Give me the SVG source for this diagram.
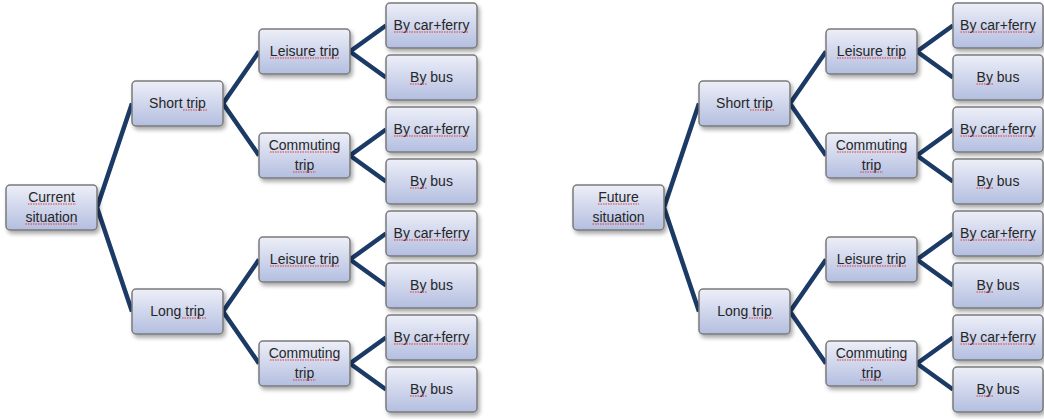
<svg xmlns="http://www.w3.org/2000/svg" width="1044" height="419" viewBox="0 0 1044 419">
<defs>
<linearGradient id="g" x1="0" y1="0" x2="0" y2="1">
<stop offset="0" stop-color="#EDEFF8"/>
<stop offset="1" stop-color="#B3BEE0"/>
</linearGradient>
<filter id="sh" x="-20%" y="-20%" width="150%" height="160%">
<feGaussianBlur in="SourceAlpha" stdDeviation="2"/>
<feOffset dx="1.5" dy="2.5" result="b"/>
<feComponentTransfer><feFuncA type="linear" slope="0.35"/></feComponentTransfer>
<feMerge><feMergeNode/><feMergeNode in="SourceGraphic"/></feMerge>
</filter>
</defs>
<style>
.box{fill:url(#g);stroke:#7B7B7B;stroke-width:1.5;filter:url(#sh)}
.t{font-family:"Liberation Sans",Arial,sans-serif;font-size:14px;fill:#262626;text-anchor:middle}
.c{fill:none;stroke:#1B3A66;stroke-width:4.5;stroke-linejoin:miter}
.sq{stroke:#E23A3A;stroke-width:1;stroke-dasharray:1.5 1;fill:none}
</style>

<g id="connectors">
<polyline class="c" points="132,103.5 97,207.5 132,311.5"/>
<polyline class="c" points="259,51.5 223,103.5 259,155.5"/>
<polyline class="c" points="259,259.5 223,311.5 259,363.5"/>
<polyline class="c" points="386,25.5 350,51.5 386,77.5"/>
<polyline class="c" points="386,129.5 350,155.5 386,181.5"/>
<polyline class="c" points="386,233.5 350,259.5 386,285.5"/>
<polyline class="c" points="386,337.5 350,363.5 386,389.5"/>
<polyline class="c" points="699,103.5 664,207.5 699,311.5"/>
<polyline class="c" points="826,51.5 790,103.5 826,155.5"/>
<polyline class="c" points="826,259.5 790,311.5 826,363.5"/>
<polyline class="c" points="953,25.5 917,51.5 953,77.5"/>
<polyline class="c" points="953,129.5 917,155.5 953,181.5"/>
<polyline class="c" points="953,233.5 917,259.5 953,285.5"/>
<polyline class="c" points="953,337.5 917,363.5 953,389.5"/>
</g>

<!-- Left tree -->
<g id="current-situation">
<rect class="box" x="6" y="185" width="91" height="45" rx="4"/>
<text class="t" x="51.5" y="202">Current</text>
<text class="t" x="51.5" y="222">situation</text>
<path class="sq" d="M28,204H76M25.5,224H77.5"/>
</g>
<g id="short-trip-l">
<rect class="box" x="132" y="81" width="91" height="45" rx="4"/>
<text class="t" x="177.5" y="108">Short trip</text>
<path class="sq" d="M183,110H207"/>
</g>
<g id="long-trip-l">
<rect class="box" x="132" y="289" width="91" height="45" rx="4"/>
<text class="t" x="177.5" y="316">Long trip</text>
<path class="sq" d="M182,318H206"/>
</g>
<g id="leisure-1-l">
<rect class="box" x="259" y="29" width="91" height="45" rx="4"/>
<text class="t" x="304.5" y="56">Leisure trip</text>
<path class="sq" d="M270,58H339"/>
</g>
<g id="commuting-1-l">
<rect class="box" x="259" y="133" width="91" height="45" rx="4"/>
<text class="t" x="304.5" y="150">Commuting</text>
<text class="t" x="304.5" y="170">trip</text>
<path class="sq" d="M270,152H340M293,172H316"/>
</g>
<g id="leisure-2-l">
<rect class="box" x="259" y="237" width="91" height="45" rx="4"/>
<text class="t" x="304.5" y="264">Leisure trip</text>
<path class="sq" d="M270,266H339"/>
</g>
<g id="commuting-2-l">
<rect class="box" x="259" y="341" width="91" height="45" rx="4"/>
<text class="t" x="304.5" y="358">Commuting</text>
<text class="t" x="304.5" y="378">trip</text>
<path class="sq" d="M270,360H340M293,380H316"/>
</g>
<g id="ferry-1-l">
<rect class="box" x="386" y="3" width="91" height="45" rx="4"/>
<text class="t" x="431.5" y="30">By car+ferry</text>
<path class="sq" d="M394,32H469"/>
</g>
<g id="bus-1-l">
<rect class="box" x="386" y="55" width="91" height="45" rx="4"/>
<text class="t" x="431.5" y="82">By bus</text>
<path class="sq" d="M410,84H427"/>
</g>
<g id="ferry-2-l">
<rect class="box" x="386" y="107" width="91" height="45" rx="4"/>
<text class="t" x="431.5" y="134">By car+ferry</text>
<path class="sq" d="M394,136H469"/>
</g>
<g id="bus-2-l">
<rect class="box" x="386" y="159" width="91" height="45" rx="4"/>
<text class="t" x="431.5" y="186">By bus</text>
<path class="sq" d="M410,188H427"/>
</g>
<g id="ferry-3-l">
<rect class="box" x="386" y="211" width="91" height="45" rx="4"/>
<text class="t" x="431.5" y="238">By car+ferry</text>
<path class="sq" d="M394,240H469"/>
</g>
<g id="bus-3-l">
<rect class="box" x="386" y="263" width="91" height="45" rx="4"/>
<text class="t" x="431.5" y="290">By bus</text>
<path class="sq" d="M410,292H427"/>
</g>
<g id="ferry-4-l">
<rect class="box" x="386" y="315" width="91" height="45" rx="4"/>
<text class="t" x="431.5" y="342">By car+ferry</text>
<path class="sq" d="M394,344H469"/>
</g>
<g id="bus-4-l">
<rect class="box" x="386" y="367" width="91" height="45" rx="4"/>
<text class="t" x="431.5" y="394">By bus</text>
<path class="sq" d="M410,396H427"/>
</g>

<!-- Right tree -->
<g id="future-situation">
<rect class="box" x="573" y="185" width="91" height="45" rx="4"/>
<text class="t" x="618.5" y="202">Future</text>
<text class="t" x="618.5" y="222">situation</text>
<path class="sq" d="M598,204H639M592.5,224H644.5"/>
</g>
<g id="short-trip-r">
<rect class="box" x="699" y="81" width="91" height="45" rx="4"/>
<text class="t" x="744.5" y="108">Short trip</text>
<path class="sq" d="M750,110H774"/>
</g>
<g id="long-trip-r">
<rect class="box" x="699" y="289" width="91" height="45" rx="4"/>
<text class="t" x="744.5" y="316">Long trip</text>
<path class="sq" d="M749,318H773"/>
</g>
<g id="leisure-1-r">
<rect class="box" x="826" y="29" width="91" height="45" rx="4"/>
<text class="t" x="871.5" y="56">Leisure trip</text>
<path class="sq" d="M837,58H906"/>
</g>
<g id="commuting-1-r">
<rect class="box" x="826" y="133" width="91" height="45" rx="4"/>
<text class="t" x="871.5" y="150">Commuting</text>
<text class="t" x="871.5" y="170">trip</text>
<path class="sq" d="M837,152H907M860,172H883"/>
</g>
<g id="leisure-2-r">
<rect class="box" x="826" y="237" width="91" height="45" rx="4"/>
<text class="t" x="871.5" y="264">Leisure trip</text>
<path class="sq" d="M837,266H906"/>
</g>
<g id="commuting-2-r">
<rect class="box" x="826" y="341" width="91" height="45" rx="4"/>
<text class="t" x="871.5" y="358">Commuting</text>
<text class="t" x="871.5" y="378">trip</text>
<path class="sq" d="M837,360H907M860,380H883"/>
</g>
<g id="ferry-1-r">
<rect class="box" x="953" y="3" width="90" height="45" rx="4"/>
<text class="t" x="998" y="30">By car+ferry</text>
<path class="sq" d="M960.5,32H1035.5"/>
</g>
<g id="bus-1-r">
<rect class="box" x="953" y="55" width="90" height="45" rx="4"/>
<text class="t" x="998" y="82">By bus</text>
<path class="sq" d="M976.5,84H993.5"/>
</g>
<g id="ferry-2-r">
<rect class="box" x="953" y="107" width="90" height="45" rx="4"/>
<text class="t" x="998" y="134">By car+ferry</text>
<path class="sq" d="M960.5,136H1035.5"/>
</g>
<g id="bus-2-r">
<rect class="box" x="953" y="159" width="90" height="45" rx="4"/>
<text class="t" x="998" y="186">By bus</text>
<path class="sq" d="M976.5,188H993.5"/>
</g>
<g id="ferry-3-r">
<rect class="box" x="953" y="211" width="90" height="45" rx="4"/>
<text class="t" x="998" y="238">By car+ferry</text>
<path class="sq" d="M960.5,240H1035.5"/>
</g>
<g id="bus-3-r">
<rect class="box" x="953" y="263" width="90" height="45" rx="4"/>
<text class="t" x="998" y="290">By bus</text>
<path class="sq" d="M976.5,292H993.5"/>
</g>
<g id="ferry-4-r">
<rect class="box" x="953" y="315" width="90" height="45" rx="4"/>
<text class="t" x="998" y="342">By car+ferry</text>
<path class="sq" d="M960.5,344H1035.5"/>
</g>
<g id="bus-4-r">
<rect class="box" x="953" y="367" width="90" height="45" rx="4"/>
<text class="t" x="998" y="394">By bus</text>
<path class="sq" d="M976.5,396H993.5"/>
</g>
</svg>
